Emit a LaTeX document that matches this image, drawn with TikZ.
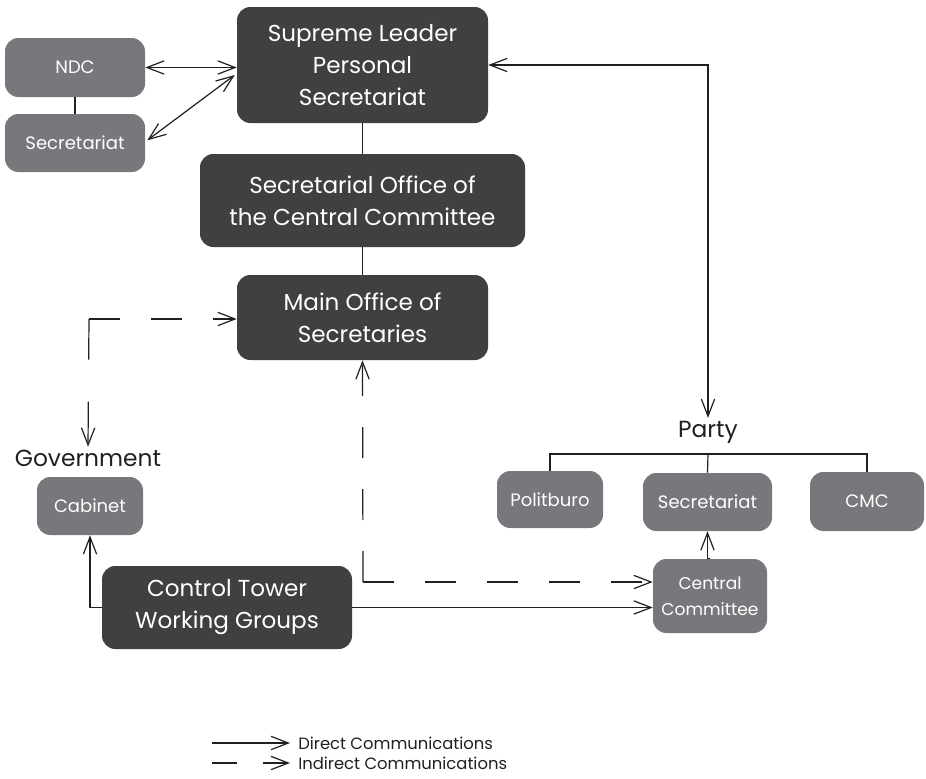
\documentclass[tikz,border=0pt]{standalone}
\usepackage{fontspec}
\setmainfont{Poppins}
\usetikzlibrary{arrows.meta}
\definecolor{darkbox}{HTML}{404041}
\definecolor{lightbox}{HTML}{77787B}
\definecolor{ink}{HTML}{231F20}
\begin{document}
\begin{tikzpicture}[x=0.75pt,y=-0.75pt,
  sz/.style 2 args={minimum width={#1*0.75pt},minimum height={#2*0.75pt}},
  bigbox/.style={fill=darkbox,text=white,rounded corners=10pt,inner sep=0pt,align=center,
     font=\fontsize{17.3}{24}\selectfont},
  smallbox/.style={fill=lightbox,text=white,rounded corners=10pt,inner sep=0pt,align=center,
     font=\fontsize{13.5}{19.5}\selectfont},
  grouplabel/.style={text=ink,inner sep=2pt,font=\fontsize{17.5}{20}\selectfont},
  legendtext/.style={text=ink,inner sep=0pt,anchor=west,font=\fontsize{12.3}{14}\selectfont},
  conn/.style={draw=ink,line width=0.9pt},
  tip/.style={arrows={-Straight Barb[length=13pt,width=10pt]}},
  bothtips/.style={arrows={Straight Barb[length=13pt,width=10pt]-Straight Barb[length=13pt,width=10pt]}},
  dsh/.style={dash pattern=on 23.25pt off 23.25pt},
  longdsh/.style={dash pattern=on 30.5pt off 31.5pt},
]
\useasboundingbox (0,0) rectangle (926,779);

% nodes
\node[bigbox,sz={251}{116}] (sup) at (362.5,65) {Supreme Leader\\Personal\\Secretariat};
\node[bigbox,sz={325}{93}] (soc) at (362.5,200.5) {Secretarial Office of\\the Central Committee};
\node[bigbox,sz={251}{85}] (mos) at (362.5,317.5) {Main Office of\\Secretaries};
\node[bigbox,sz={250}{83}] (ctw) at (227,607.5) {Control Tower\\Working Groups};

\node[smallbox,sz={140}{59}] (ndc) at (75,67.5) {NDC};
\node[smallbox,sz={140}{58}] (lsec) at (75,143) {Secretariat};
\node[smallbox,sz={106}{58}] (cab) at (90,506) {Cabinet};
\node[smallbox,sz={106}{57}] (pol) at (550,499.5) {Politburo};
\node[smallbox,sz={129}{58}] (psec) at (707.5,502) {Secretariat};
\node[smallbox,sz={114}{59}] (cmc) at (867,501.5) {CMC};
\node[smallbox,sz={114}{74},font=\fontsize{12.8}{19.5}\selectfont] (cc) at (710,596) {Central\\Committee};

\node[grouplabel] (party) at (708,432) {Party};
\node[grouplabel] (gov) at (88,458) {Government};

% coordinates
\coordinate (gc) at (89,319);
\coordinate (mc) at (363,582);
\coordinate (pbar) at (708,454);

% solid connectors
\draw[conn] (sup) -- (soc);
\draw[conn] (soc) -- (mos);
\draw[conn] (ndc) -- (lsec);
\draw[conn,bothtips] (ndc.east) -- (ndc.east -| sup.west);
\draw[conn,bothtips] ([xshift=1.5pt,yshift=2pt]lsec.east) -- ([xshift=-1.5pt,yshift=-7.5pt]sup.west);
\draw[conn,bothtips] (sup.east) -| (party.north);
\draw[conn] (pol.north) |- (pbar) -| (cmc.north);
\draw[conn] (pbar) -- (psec.north);
\draw[conn,tip] (cc.north) -- (cc.north -| psec.south) -- (psec.south);
\draw[conn,tip] (ctw.east) -- (ctw.east -| cc.west);
\draw[conn,tip] (ctw.west) -| (cab.south);

% dashed connectors
\draw[conn,dsh,tip] (gc) -- (gc -| mos.west);
\draw[conn,longdsh,tip] (gc) -- (gov.north);
\draw[conn,dsh,tip] (mc) -- (mos.south);
\draw[conn,dsh,tip] (mc) -- (mc -| cc.west);

% legend
\coordinate (l1a) at (212,743);
\coordinate (l1b) at (290,743);
\coordinate (l2a) at (212,763);
\coordinate (l2b) at (290,763);
\draw[conn,tip] (l1a) -- (l1b);
\draw[conn,tip,dash pattern=on 18.75pt off 19.5pt] (l2a) -- (l2b);
\node[legendtext] (ld) at (298,743) {Direct Communications};
\node[legendtext] (li) at (298,763) {Indirect Communications};
\end{tikzpicture}
\end{document}
